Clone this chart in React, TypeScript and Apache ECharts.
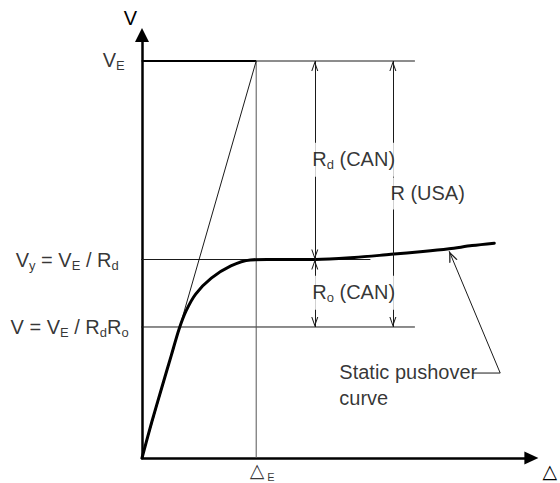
import React, { useEffect, useRef } from "react";
import * as echarts from "echarts";

// Normalised levels: V_E = 1, Δ_E = 1
const DELTA_E = 1;
const V_E = 1;
const V_Y = 0.5;
const V_DES = 0.33;

// axis extents
const X_MAX = 3.41;
const Y_MAX = 1.0655;

// reference line extents
const REF_LEFT = -0.077;
const REF_RIGHT = 2.39;
const VY_RIGHT = 2.0;
const DIM_CAN_X = 1.513;
const DIM_USA_X = 2.197;

// static pushover curve
const curveX = [0, 0.085, 0.171, 0.256, 0.325, 0.385, 0.47, 0.607, 0.778, 0.949, 1.094, 1.52, 1.86, 2.18, 2.46, 2.69, 2.89, 3.085];
const curveY = [0, 0.09, 0.175, 0.258, 0.325, 0.37, 0.413, 0.453, 0.484, 0.499, 0.5, 0.5, 0.505, 0.513, 0.52, 0.527, 0.535, 0.541];

// callout
const calloutTip = [2.69, 0.521];
const calloutCorner = [3.137, 0.214];
const calloutTextEnd = [2.897, 0.214];

const FONT = "'Liberation Sans', Arial, Helvetica, sans-serif";
const CHEV = "path://M5,0 M0,20 L5,10 L10,20 L8.5,20 L5,13 L1.5,20 Z";

const rich = {
  m: { fontSize: 20, lineHeight: 20, verticalAlign: "top", color: "#000", fontFamily: FONT },
  s: { fontSize: 13, lineHeight: 22, verticalAlign: "bottom", color: "#000", fontFamily: FONT },
  t: { fontSize: 19, lineHeight: 19, verticalAlign: "top", color: "#000", fontFamily: "'DejaVu Sans', sans-serif" },
  e: { fontSize: 11, lineHeight: 22, verticalAlign: "bottom", color: "#000", fontFamily: FONT, padding: [0, 0, 0, 3] },
};

const seg = (data: number[][], color = "#1a1a1a", width = 1) => ({
  type: "line",
  data,
  symbol: "none",
  clip: false,
  silent: true,
  lineStyle: { color, width },
  z: 1,
});

export default function App() {
  const ref = useRef<HTMLDivElement>(null);
  useEffect(() => {
    document.body.style.margin = "0";
    const chart = echarts.init(ref.current!, null, { renderer: "svg" });
    const dimLabel = { backgroundColor: "#fff", padding: [6, 1, 6, 1], position: [-3, 0], align: "left", verticalAlign: "middle" };
    const labels = [
      { value: [REF_LEFT, V_E], label: { position: "left", distance: 8, offset: [0, 0], formatter: "{m|V}{s|E}" } },
      { value: [REF_LEFT, V_Y], label: { position: "left", distance: 14, offset: [0, 1], formatter: "{m|V}{s|y}{m| = V}{s|E}{m| / R}{s|d}" } },
      { value: [REF_LEFT, V_DES], label: { position: "left", distance: 4, offset: [0, 1], formatter: "{m|V = V}{s|E}{m| / R}{s|d}{m|R}{s|o}" } },
      { value: [DELTA_E, 0], label: { position: "bottom", distance: 2, offset: [6, 0], formatter: "{t|△}{e|E}" } },
      { value: [DIM_CAN_X, (V_E + V_Y) / 2], label: { ...dimLabel, formatter: "{m|R}{s|d}{m| (CAN)}" } },
      { value: [DIM_CAN_X, (V_Y + V_DES) / 2], label: { ...dimLabel, formatter: "{m|R}{s|o}{m| (CAN)}" } },
      { value: [DIM_USA_X, (V_E + V_DES) / 2], label: { ...dimLabel, formatter: "{m|R (USA)}" } },
      { value: calloutTextEnd, label: { position: [-133, -14], align: "left", verticalAlign: "top", lineHeight: 26, fontSize: 20, fontFamily: FONT, color: "#000", formatter: "Static pushover\ncurve" } },
    ];
    chart.setOption({
      animation: false,
      grid: { left: 142, right: 19, top: 35, bottom: 25, containLabel: false },
      xAxis: {
        type: "value",
        min: 0,
        max: X_MAX,
        name: "△",
        nameLocation: "end",
        nameGap: 11,
        nameTextStyle: { fontFamily: "'DejaVu Sans', sans-serif", fontSize: 19, color: "#000", align: "left", verticalAlign: "top", padding: [3, 0, 0, 0] },
        axisLine: { show: true, onZero: false, symbol: ["none", "triangle"], symbolSize: [13, 14], lineStyle: { color: "#000", width: 2.5 } },
        axisTick: { show: false },
        axisLabel: { show: false },
        splitLine: { show: false },
      },
      yAxis: {
        type: "value",
        min: 0,
        max: Y_MAX,
        name: "V",
        nameLocation: "end",
        nameGap: 4,
        nameTextStyle: { fontFamily: FONT, fontSize: 20, color: "#000", align: "right", verticalAlign: "bottom", padding: [0, 5, 3, 0] },
        axisLine: { show: true, onZero: false, symbol: ["none", "triangle"], symbolSize: [14, 14], lineStyle: { color: "#000", width: 2.5 } },
        axisTick: { show: false },
        axisLabel: { show: false },
        splitLine: { show: false },
      },
      series: [
        seg([[REF_LEFT, V_E], [REF_RIGHT, V_E]]),
        seg([[0, V_E], [DELTA_E, V_E]], "#000", 2),
        seg([[REF_LEFT, V_Y], [VY_RIGHT, V_Y]]),
        seg([[REF_LEFT, V_DES], [REF_RIGHT, V_DES]]),
        seg([[DELTA_E, 0], [DELTA_E, V_E]], "#555"),
        seg([[0, 0], [DELTA_E, V_E]]),
        seg([calloutTextEnd, calloutCorner]),
        {
          type: "line",
          data: curveX.map((x, i) => [x, curveY[i]]),
          symbol: "none",
          smooth: 0.3,
          silent: true,
          lineStyle: { color: "#000", width: 3, join: "round", cap: "round" },
          z: 3,
          markLine: {
            silent: true,
            symbol: [CHEV, CHEV],
            symbolSize: [7, 20],
            label: { show: false },
            lineStyle: { color: "#1a1a1a", width: 1, type: "solid" },
            emphasis: { disabled: true },
            data: [
              [{ coord: [DIM_CAN_X, V_E] }, { coord: [DIM_CAN_X, V_Y] }],
              [{ coord: [DIM_CAN_X, V_Y] }, { coord: [DIM_CAN_X, V_DES] }],
              [{ coord: [DIM_USA_X, V_E] }, { coord: [DIM_USA_X, V_DES] }],
              [{ coord: calloutCorner, symbol: "none" }, { coord: calloutTip, symbol: CHEV, symbolSize: [9, 22] }],
            ],
          },
        },
        {
          type: "scatter",
          data: labels,
          symbol: "circle",
          symbolSize: 1,
          clip: false,
          silent: true,
          itemStyle: { color: "transparent" },
          label: { show: true, rich, color: "#000" },
          z: 5,
        },
      ],
    });
    return () => chart.dispose();
  }, []);
  return <div ref={ref} style={{ width: 560, height: 483 }} />;
}
